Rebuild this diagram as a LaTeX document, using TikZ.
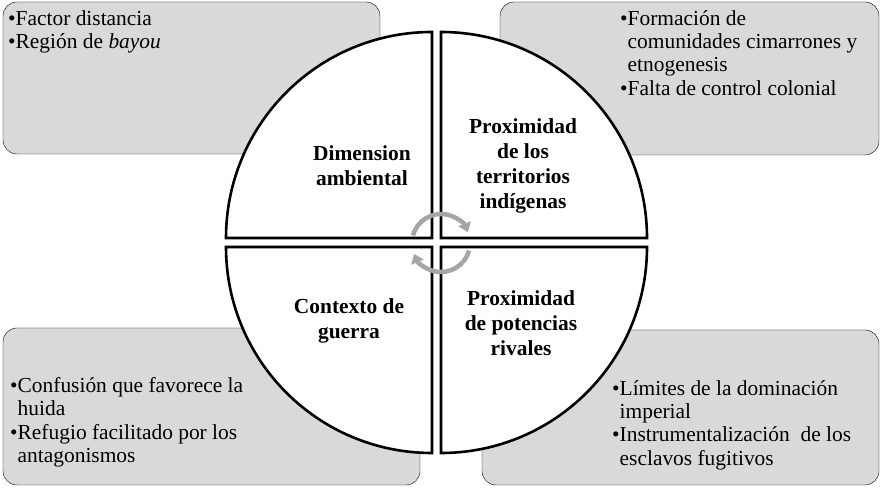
\documentclass[tikz,border=0pt]{standalone}
\usepackage{fontspec}
\setmainfont{Liberation Serif}
\usetikzlibrary{arrows.meta}
\begin{document}
\begin{tikzpicture}[x=1bp,y=1bp,
  sidebox/.style={draw=black,fill=black!15,rounded corners=14bp},
  quad/.style={draw=black,line width=2.6bp,fill=white},
  title/.style={font=\fontsize{21.5}{25}\selectfont\bfseries,align=center},
  item/.style={font=\fontsize{21.5}{23.5}\selectfont,align=left,anchor=north west,inner sep=0pt},
  turn/.style={draw=black!35,line width=4.5bp,-{Triangle[length=9bp,width=13bp]}}]
\useasboundingbox (0,0) rectangle (883,488);
% side boxes
\draw[sidebox] (3,334) rectangle (380,486);
\draw[sidebox] (500,333) rectangle (879,486);
\draw[sidebox] (3,3) rectangle (420,160);
\draw[sidebox] (482,3) rectangle (879,158);
% quarters
\draw[quad] (432,250) -- ++(-206,0) arc(180:90:206) -- cycle;
\draw[quad] (441,250) -- ++(0,206) arc(90:0:206) -- cycle;
\draw[quad] (432,241) -- ++(0,-206) arc(270:180:206) -- cycle;
\draw[quad] (441,241) -- ++(206,0) arc(0:-90:206) -- cycle;
% cycle arrows
\coordinate (mid) at (441,245);
\draw[turn] ([shift={(165:29)}]mid) arc(165:22:29);
\draw[turn] ([shift={(-15:29)}]mid) arc(-15:-158:29);
% titles
\node[title] (amb) at (362,322) {Dimension\\ambiental};
\node[title] (ind) at (523,322) {Proximidad\\de los\\territorios\\indígenas};
\node[title] (gue) at (349,167) {Contexto de\\guerra};
\node[title] (riv) at (521,165) {Proximidad\\de potencias\\rivales};
% items
\node[item] (tl) at (8,478) {•Factor distancia\\•Región de \textit{bayou}};
\node[item] (tr) at (620,478) {•Formación de\\\hphantom{•}comunidades cimarrones y\\\hphantom{•}etnogenesis\\•Falta de control colonial};
\node[item] (bl) at (10,111) {•Confusión que favorece la\\\hphantom{•}huida\\•Refugio facilitado por los\\\hphantom{•}antagonismos};
\node[item] (br) at (612,108) {•Límites de la dominación\\\hphantom{•}imperial\\•Instrumentalización\ \ de los\\\hphantom{•}esclavos fugitivos};
\end{tikzpicture}
\end{document}
